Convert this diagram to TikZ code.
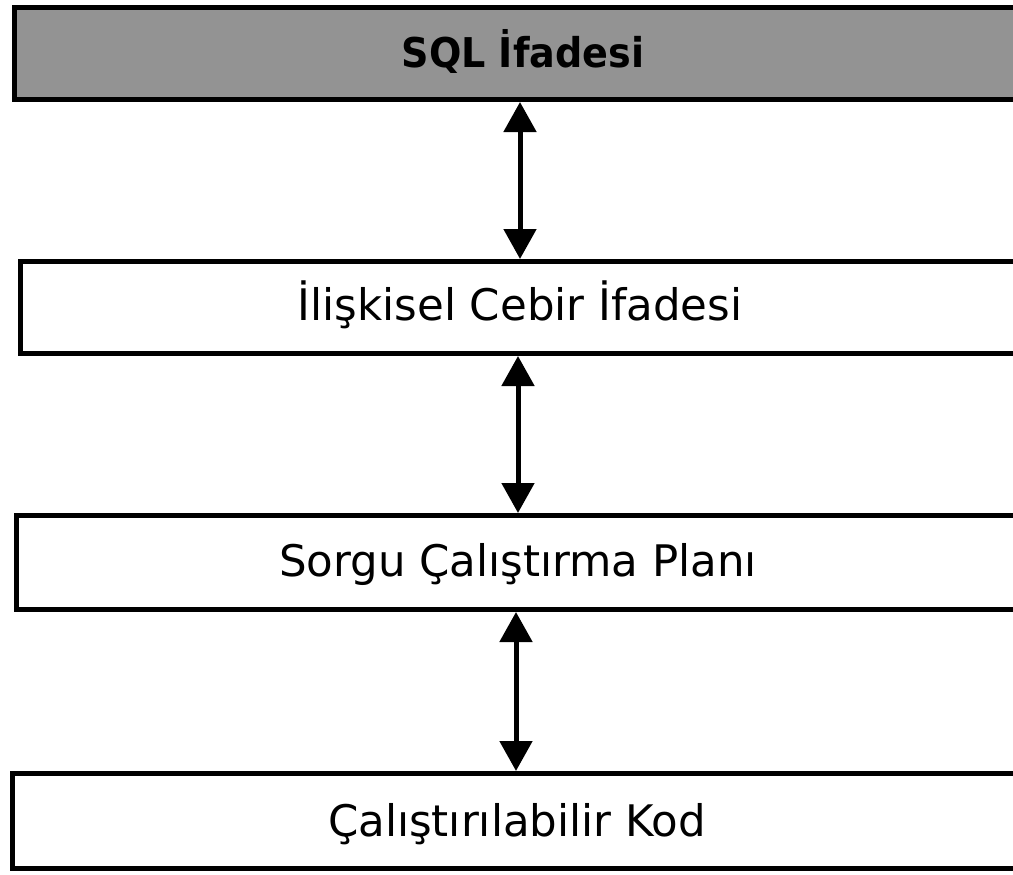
\documentclass[tikz,border=0pt]{standalone}
\usepackage{fontspec}
\setmainfont{DejaVu Sans}
\usetikzlibrary{arrows.meta}
\definecolor{boxgray}{HTML}{939393}
\tikzset{
  layer/.style={draw=black, line width=5pt, minimum height=92pt, minimum width=1040pt, inner sep=0pt},
  lbl/.style={font=\fontsize{43.5}{48}\selectfont, inner sep=0pt, anchor=base},
  biarrow/.style={line width=5pt, {Triangle[width=32pt,length=30pt]}-{Triangle[width=32pt,length=30pt]}}
}
\begin{document}
\begin{tikzpicture}[x=1pt,y=-1pt]
\useasboundingbox (0,0) rectangle (1013,875);
\fill[white] (0,0) rectangle (1013,875);
\begin{scope}
\clip (0,0) rectangle (1013,875);
\node[layer, fill=boxgray, anchor=north west] (b1) at (12,5) {};
\node[layer, fill=white, anchor=north west] (b2) at (18,259) {};
\node[layer, fill=white, anchor=north west, minimum height=94pt] (b3) at (14,513) {};
\node[layer, fill=white, anchor=north west, minimum height=95pt] (b4) at (10,771) {};
\end{scope}
\node[lbl, font=\fontsize{41}{46}\selectfont\bfseries, xscale=0.93] (t1) at (523,68) {SQL İfadesi};
\node[lbl] (t2) at (520,320) {İlişkisel Cebir İfadesi};
\node[lbl] (t3) at (518,576) {Sorgu Çalıştırma Planı};
\node[lbl] (t4) at (517,836) {Çalıştırılabilir Kod};
\draw[biarrow] (520,0 |- b1.south) -- (520,0 |- b2.north);
\draw[biarrow] (518,0 |- b2.south) -- (518,0 |- b3.north);
\draw[biarrow] (516,0 |- b3.south) -- (516,0 |- b4.north);
\end{tikzpicture}
\end{document}
